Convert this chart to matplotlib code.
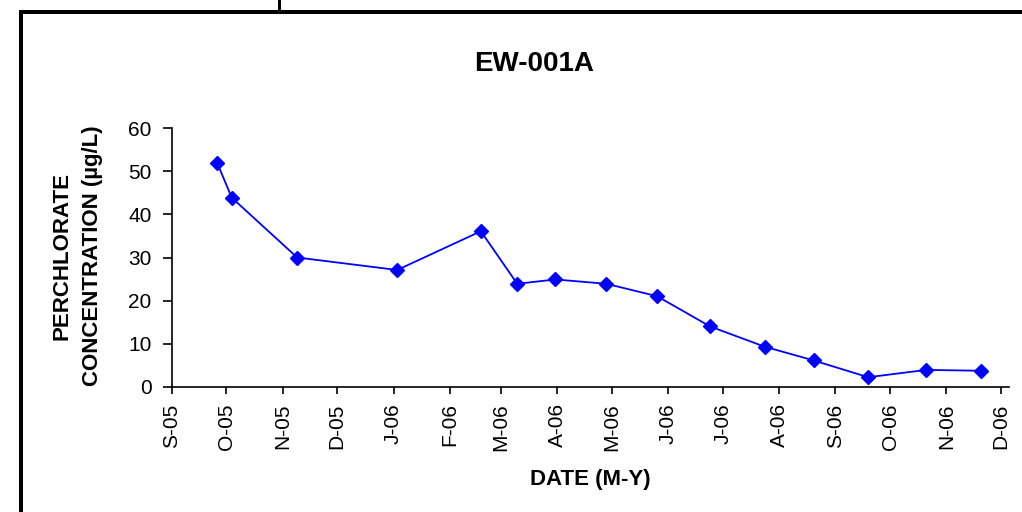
import matplotlib
matplotlib.use("Agg")
import matplotlib.pyplot as plt
import matplotlib.dates as mdates
from matplotlib.lines import Line2D
import pandas as pd

# ---- data ----
sample_dates = ["2005-09-26", "2005-10-04", "2005-11-09", "2006-01-03", "2006-02-18",
                "2006-03-10", "2006-03-31", "2006-04-28", "2006-05-26", "2006-06-24",
                "2006-07-24", "2006-08-20", "2006-09-19", "2006-10-21", "2006-11-20"]
concentration = [52.0, 43.9, 30.0, 27.1, 36.1, 23.9, 24.9, 23.9, 21.0, 14.0,
                 9.3, 6.1, 2.2, 3.9, 3.7]
tick_dates = pd.date_range("2005-09-01", "2006-12-01", freq="MS")
tick_labels = ["S-05", "O-05", "N-05", "D-05", "J-06", "F-06", "M-06", "A-06",
               "M-06", "J-06", "J-06", "A-06", "S-06", "O-06", "N-06", "D-06"]
y_ticks = [0, 10, 20, 30, 40, 50, 60]
title = "EW-001A"
x_label = "DATE (M-Y)"
y_label = "PERCHLORATE\nCONCENTRATION (µg/L)"

plt.rcParams['font.family'] = ['Liberation Sans', 'DejaVu Sans']

W, H = 1022, 512
fig = plt.figure(figsize=(W / 100, H / 100), dpi=100)
fig.patch.set_facecolor("white")

left, right, top, bottom = 171.7, 1009, 128.3, 386.7
ax = fig.add_axes([left / W, 1 - bottom / H, (right - left) / W, (bottom - top) / H])

x = pd.to_datetime(sample_dates)
ax.plot(x, concentration, color="#0000FF", lw=1.3, marker="D", markersize=7,
        markerfacecolor="#0000FF", markeredgecolor="#0000FF", clip_on=False, zorder=3)

ax.set_xlim(pd.Timestamp("2005-09-01"), pd.Timestamp("2006-12-05 10:00"))
ax.set_ylim(0, 60)
ax.set_xticks(tick_dates)
ax.set_xticklabels(tick_labels, rotation=90, fontsize=15)
ax.set_yticks(y_ticks)
ax.set_yticklabels([str(v) for v in y_ticks], fontsize=15)

for s in ["top", "right"]:
    ax.spines[s].set_visible(False)
for s in ["left", "bottom"]:
    ax.spines[s].set_linewidth(1.2)
    ax.spines[s].set_color("black")
ax.tick_params(axis="y", direction="out", length=6.5, width=1.2, pad=8)
ax.tick_params(axis="x", direction="out", length=5, width=1.2, pad=7)

fig.text(534 / W, 1 - 64 / H, title, ha="center", va="center",
         fontsize=20, fontweight="bold")
fig.text(590.5 / W, 1 - 479 / H, x_label, ha="center", va="center",
         fontsize=16, fontweight="bold")
fig.text(77 / W, 1 - 256 / H, y_label, ha="center", va="center", rotation=90,
         fontsize=16, fontweight="bold", multialignment="center", linespacing=1.6)

# outer frame lines
lw_frame = 4 * 72 / 100
fig.add_artist(Line2D([20.5 / W, 1.0], [1 - 12 / H, 1 - 12 / H], color="black",
                      lw=lw_frame, transform=fig.transFigure, solid_capstyle="projecting"))
fig.add_artist(Line2D([20.5 / W, 20.5 / W], [0, 1 - 12 / H], color="black",
                      lw=lw_frame, transform=fig.transFigure, solid_capstyle="projecting"))
fig.add_artist(Line2D([278.7 / W, 278.7 / W], [1 - 12 / H, 1.0], color="black",
                      lw=3 * 72 / 100, transform=fig.transFigure))

fig.savefig("out.png", dpi=100, facecolor="white")
